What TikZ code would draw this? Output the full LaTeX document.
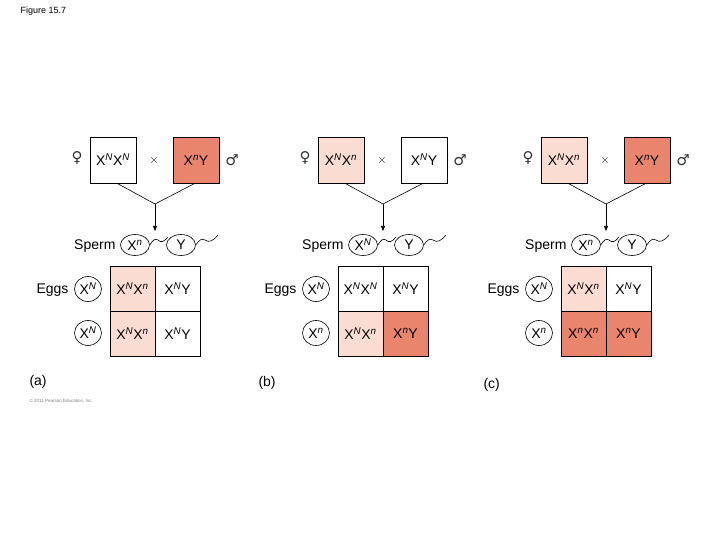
\documentclass[tikz,border=0pt]{standalone}
\usepackage{fontspec}
\setmainfont{Liberation Sans}
\newfontfamily\symf{DejaVu Sans}
\usetikzlibrary{arrows.meta,shapes.geometric}
\definecolor{dk}{HTML}{E9856C}
\definecolor{lt}{HTML}{FADCD2}
\newcommand{\XX}[2]{X$^{\mathit{#1}}$X$^{\mathit{#2}}$}
\newcommand{\XY}[1]{X$^{\mathit{#1}}$Y}
\newcommand{\Xs}[1]{X$^{\mathit{#1}}$}
\tikzset{
  par/.style={draw,line width=0.6pt,minimum size=46pt,inner sep=0pt,font=\fontsize{14}{14}\selectfont},
  cell/.style={draw,line width=0.6pt,minimum size=45pt,inner sep=0pt,font=\fontsize{14}{14}\selectfont},
  gam/.style={draw,ellipse,line width=0.6pt,minimum width=29pt,minimum height=21pt,inner sep=0pt,font=\fontsize{14}{14}\selectfont},
  lab/.style={font=\fontsize{14}{14}\selectfont,anchor=east},
  sym/.style={font=\symf\fontsize{15}{15}\selectfont,text=black!80},
  ln/.style={line width=0.6pt}
}
\newcommand{\mypanel}[9]{%
\begin{scope}[xshift=#2pt]
\node[sym] (#1fs) at (77,158) {♀};
\node[par,fill=#4] (#1f) at (113,160) {#3};
\node (#1x) at (154,161) {\fontsize{12}{12}\selectfont$\times$};
\node[par,fill=#6] (#1m) at (196,160) {#5};
\node[sym] (#1ms) at (232,160) {♂};
\coordinate (#1j) at (155,204);
\draw[ln] ([xshift=4pt]#1f.south) -- (#1j);
\draw[ln] ([xshift=-1pt]#1m.south) -- (#1j);
\node[gam] (#1s1) at (135,245) {#7};
\node[gam] (#1s2) at (181,245) {Y};
\draw[ln,-{Triangle[length=5pt,width=4pt]}] (#1j) -- (155,231);
\node[lab] (#1sl) at (119,246) {Sperm};
\draw[ln] (#1s1.east) .. controls (153,240) and (155,238) .. (158,240) .. controls (161,243) and (164,242) .. (168,237);
\draw[ln] (#1s2.east) .. controls (199,240) and (202,238) .. (205,240) .. controls (209,243) and (213,241) .. (218,235);
\node[gam,minimum width=27pt,minimum height=25pt] (#1e1) at (88,289) {\Xs{N}};
\node[gam,minimum width=27pt,minimum height=25pt] (#1e2) at (88,333) {#8};
\node[lab] (#1el) at (72,290) {Eggs};
#9
\end{scope}}
\newcommand{\grid}[9]{%
\node[cell,fill=#2] (#1a) at (132.5,288.5) {#3};
\node[cell,fill=#4] (#1b) at (177.5,288.5) {#5};
\node[cell,fill=#6] (#1c) at (132.5,333.5) {#7};
\node[cell,fill=#8] (#1d) at (177.5,333.5) {#9};}
\begin{document}
\begin{tikzpicture}[x=1pt,y=-1pt]
\useasboundingbox[fill=white] (0,0) rectangle (720,540);
\node[anchor=west,font=\fontsize{9}{9}\selectfont] (title) at (17,11) {Figure 15.7};
\mypanel{a}{0}{\XX{N}{N}}{white}{\XY{n}}{dk}{\Xs{n}}{\Xs{N}}{\grid{ag}{lt}{\XX{N}{n}}{white}{\XY{N}}{lt}{\XX{N}{n}}{white}{\XY{N}}}
\mypanel{b}{228}{\XX{N}{n}}{lt}{\XY{N}}{white}{\Xs{N}}{\Xs{n}}{\grid{bg}{white}{\XX{N}{N}}{white}{\XY{N}}{lt}{\XX{N}{n}}{dk}{\XY{n}}}
\mypanel{c}{451}{\XX{N}{n}}{lt}{\XY{n}}{dk}{\Xs{n}}{\Xs{n}}{\grid{cg}{lt}{\XX{N}{n}}{white}{\XY{N}}{dk}{\XX{n}{n}}{dk}{\XY{n}}}
\node[anchor=west,font=\fontsize{14}{14}\selectfont] (la) at (26,382) {(a)};
\node[anchor=west,font=\fontsize{14}{14}\selectfont] (lb) at (255,383) {(b)};
\node[anchor=west,font=\fontsize{14}{14}\selectfont] (lc) at (480,385) {(c)};
\node[anchor=west,font=\fontsize{4.5}{5}\selectfont,text=gray] (cp) at (26,401) {© 2011 Pearson Education, Inc.};
\end{tikzpicture}
\end{document}
